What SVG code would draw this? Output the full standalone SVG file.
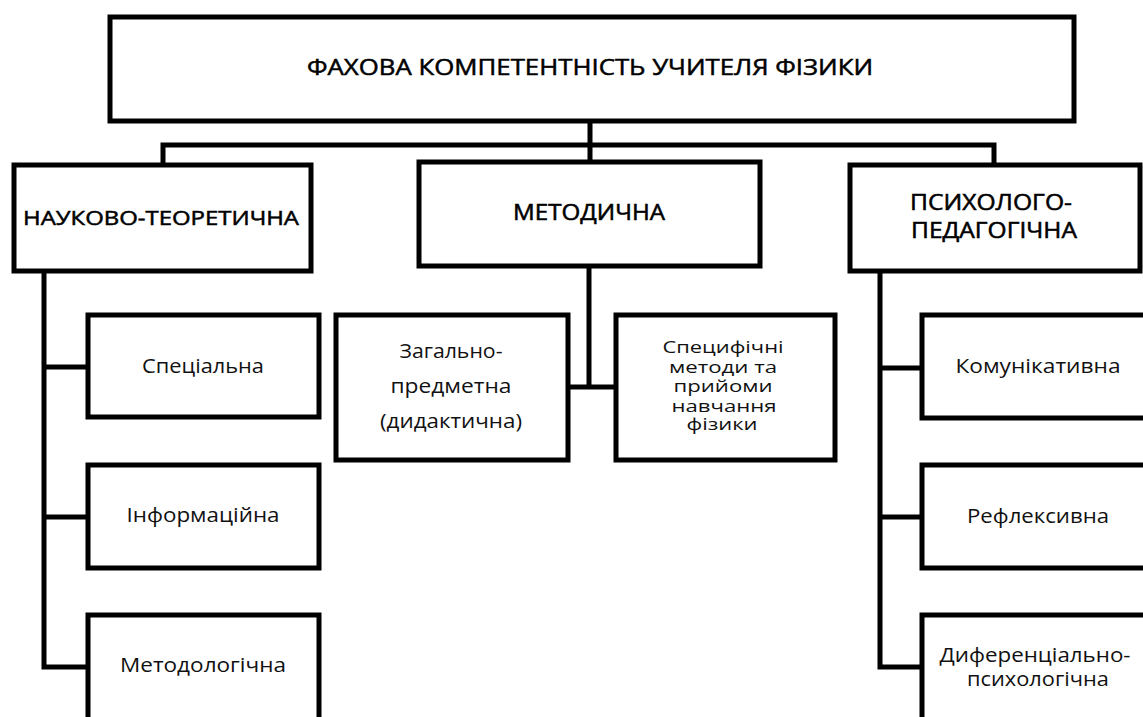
<svg xmlns="http://www.w3.org/2000/svg" width="1143" height="717" viewBox="0 0 1143 717">
<style>
.box{fill:#fff;stroke:#000;stroke-width:5}
.ln{fill:none;stroke:#000;stroke-width:5;stroke-linejoin:miter;stroke-linecap:square}
.h{font-family:"Open Sans","Noto Sans",sans-serif;font-weight:400;fill:#000;stroke:#000;stroke-width:0.5;text-anchor:middle}
.t{font-family:"Open Sans","Noto Sans",sans-serif;font-weight:400;fill:#111;text-anchor:middle}
.s{font-family:"Open Sans","Noto Sans",sans-serif;font-weight:400;fill:#111;text-anchor:middle;font-size:16px}
</style>
<rect width="1143" height="717" fill="#fff"/>
<g id="connectors">
<path class="ln" d="M590 121V145M163 145H994M163 145V165M590 145V162M994 145V165"/>
<path class="ln" d="M44 271V667M44 367H88M44 517H88M44 667H88"/>
<path class="ln" d="M589 266V387M568 387H616"/>
<path class="ln" d="M880 271V667M880 368H922M880 517H922M880 667H922"/>
</g>
<g id="root">
<rect class="box" x="110" y="17" width="964" height="104"/>
<text class="h" x="590" y="75" font-size="22" textLength="566" lengthAdjust="spacingAndGlyphs">ФАХОВА КОМПЕТЕНТНІСТЬ УЧИТЕЛЯ ФІЗИКИ</text>
</g>
<g id="nt">
<rect class="box" x="14" y="165" width="297" height="106"/>
<text class="h" x="161" y="225" font-size="20" textLength="276" lengthAdjust="spacingAndGlyphs">НАУКОВО-ТЕОРЕТИЧНА</text>
</g>
<g id="met">
<rect class="box" x="419" y="162" width="341" height="104"/>
<text class="h" x="589" y="220" font-size="21" textLength="152" lengthAdjust="spacingAndGlyphs">МЕТОДИЧНА</text>
</g>
<g id="pp">
<rect class="box" x="850" y="165" width="290" height="106"/>
<text class="h" x="991" y="210" font-size="21" textLength="162" lengthAdjust="spacingAndGlyphs">ПСИХОЛОГО-</text>
<text class="h" x="994" y="238" font-size="21" textLength="166" lengthAdjust="spacingAndGlyphs">ПЕДАГОГІЧНА</text>
</g>
<g id="spec">
<rect class="box" x="88" y="315" width="231" height="102"/>
<text class="t" x="203" y="373" font-size="20" textLength="122" lengthAdjust="spacingAndGlyphs">Спеціальна</text>
</g>
<g id="inf">
<rect class="box" x="88" y="465" width="231" height="103"/>
<text class="t" x="203" y="522" font-size="20" textLength="153" lengthAdjust="spacingAndGlyphs">Інформаційна</text>
</g>
<g id="metod">
<rect class="box" x="88" y="615" width="231" height="110"/>
<text class="t" x="203" y="672" font-size="20" textLength="166" lengthAdjust="spacingAndGlyphs">Методологічна</text>
</g>
<g id="zag">
<rect class="box" x="336" y="315" width="232" height="145"/>
<text class="t" x="451" y="358" font-size="20" textLength="103" lengthAdjust="spacingAndGlyphs">Загально-</text>
<text class="t" x="451" y="393" font-size="20" textLength="121" lengthAdjust="spacingAndGlyphs">предметна</text>
<text class="t" x="451" y="428" font-size="20" textLength="142" lengthAdjust="spacingAndGlyphs">(дидактична)</text>
</g>
<g id="specm">
<rect class="box" x="616" y="315" width="219" height="145"/>
<text class="s" x="723" y="353" textLength="121" lengthAdjust="spacingAndGlyphs">Специфічні</text>
<text class="s" x="723" y="373" textLength="108" lengthAdjust="spacingAndGlyphs">методи та</text>
<text class="s" x="723" y="392" textLength="99" lengthAdjust="spacingAndGlyphs">прийоми</text>
<text class="s" x="724" y="412" textLength="105" lengthAdjust="spacingAndGlyphs">навчання</text>
<text class="s" x="722" y="430" textLength="71" lengthAdjust="spacingAndGlyphs">фізики</text>
</g>
<g id="kom">
<rect class="box" x="922" y="315" width="232" height="103"/>
<text class="t" x="1038" y="373" font-size="20" textLength="165" lengthAdjust="spacingAndGlyphs">Комунікативна</text>
</g>
<g id="ref">
<rect class="box" x="922" y="465" width="232" height="103"/>
<text class="t" x="1038" y="523" font-size="20" textLength="142" lengthAdjust="spacingAndGlyphs">Рефлексивна</text>
</g>
<g id="dif">
<rect class="box" x="922" y="615" width="232" height="110"/>
<text class="t" x="1035" y="662" font-size="20" textLength="191" lengthAdjust="spacingAndGlyphs">Диференціально-</text>
<text class="t" x="1038" y="686" font-size="20" textLength="142" lengthAdjust="spacingAndGlyphs">психологічна</text>
</g>
</svg>
